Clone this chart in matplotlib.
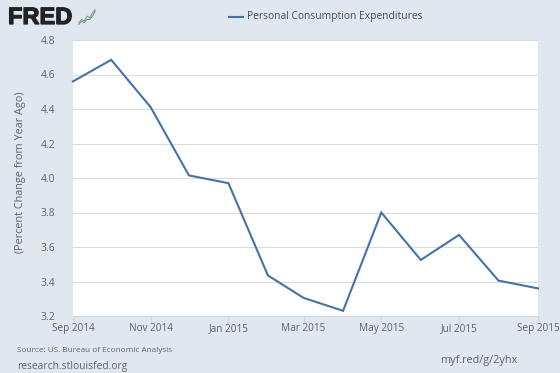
# -*- coding: utf-8 -*-
"""FRED chart: personal consumption expenditures, percent change from year ago."""
import matplotlib
matplotlib.use("Agg")
import matplotlib.dates as mdates
import matplotlib.patheffects as pe
import matplotlib.pyplot as plt
import pandas as pd

dates = pd.date_range("2014-09-01", "2015-09-01", freq="MS")
values = [4.56, 4.685, 4.41, 4.015, 3.97, 3.435, 3.305, 3.23, 3.80, 3.525, 3.67, 3.405, 3.36]
y_ticks = [3.2, 3.4, 3.6, 3.8, 4.0, 4.2, 4.4, 4.6, 4.8]
x_ticks = pd.date_range("2014-09-01", "2015-09-01", freq="2MS")

icon_x = [0, 1, 2, 3, 4, 5, 6]
icon_green = [1, 3, 2, 5, 4, 7, 9]
icon_blue = [0, 2, 1, 3, 3, 5, 8]

BG = "#dfe7ef"
TEXT = "#5c646d"
LINE = "#4572a7"
W, H = 560, 373

plt.rcParams["font.family"] = ["Open Sans", "DejaVu Sans"]

fig = plt.figure(figsize=(W / 100, H / 100), dpi=100, facecolor=BG)
ax = fig.add_axes([73 / W, 1 - 316 / H, (538 - 73) / W, (316 - 40) / H], facecolor="white")
ax.plot(dates, values, color=LINE, lw=1.5, solid_joinstyle="miter", clip_on=False, zorder=3)

ax.set_xlim(dates[0], dates[-1])
ax.set_ylim(3.2, 4.8)
ax.set_yticks(y_ticks)
ax.set_yticklabels([f"{v:.1f}" for v in y_ticks])
ax.set_xticks(x_ticks)
ax.xaxis.set_major_formatter(mdates.DateFormatter("%b %Y"))
ax.grid(axis="y", color="#dcdcdc", lw=0.8)
ax.set_axisbelow(True)
ax.tick_params(axis="y", length=0, pad=13, labelsize=7.5, labelcolor=TEXT)
ax.tick_params(axis="x", length=5, width=0.8, color="#cfd6dd", pad=0, labelsize=7.2, labelcolor=TEXT)
for side in ["top", "left", "right"]:
    ax.spines[side].set_visible(False)
ax.spines["bottom"].set_color("#cfd6dd")
ax.set_ylabel("(Percent Change from Year Ago)", fontsize=7.8, color=TEXT)
ax.yaxis.set_label_coords((26 - 73) / 465, (316 - 172.5) / 276)

# legend
fig.add_artist(plt.Line2D([229 / W, 243 / W], [1 - 17 / H] * 2, color=LINE, lw=1.5))
fig.text(247 / W, 1 - 17 / H, "Personal Consumption Expenditures", fontsize=7.4, color="#444c55", va="center")

# logo
fig.text(8 / W, 1 - 17.5 / H, "FRED", fontsize=17, fontweight="bold", family="Liberation Sans",
         color="#222222", va="center",
         path_effects=[pe.withStroke(linewidth=0.9, foreground="#222222")])
icon = fig.add_axes([78 / W, 1 - 25 / H, 18 / W, 16 / H])
icon.plot(icon_x, icon_green, color="#8aa86a", lw=0.8)
icon.plot(icon_x, icon_blue, color="#6d8fb0", lw=0.8)
icon.axis("off")

# footer
fig.text(17 / W, 1 - 351 / H, "Source: US. Bureau of Economic Analysis", fontsize=5.9, color=TEXT, va="center")
fig.text(17 / W, 1 - 366 / H, "research.stlouisfed.org", fontsize=7.4, color=TEXT, va="center")
fig.text(440 / W, 1 - 360 / H, "myf.red/g/2yhx", fontsize=7.8, color=TEXT, va="center")

fig.savefig("out.png", dpi=100, facecolor=BG)
plt.close(fig)
